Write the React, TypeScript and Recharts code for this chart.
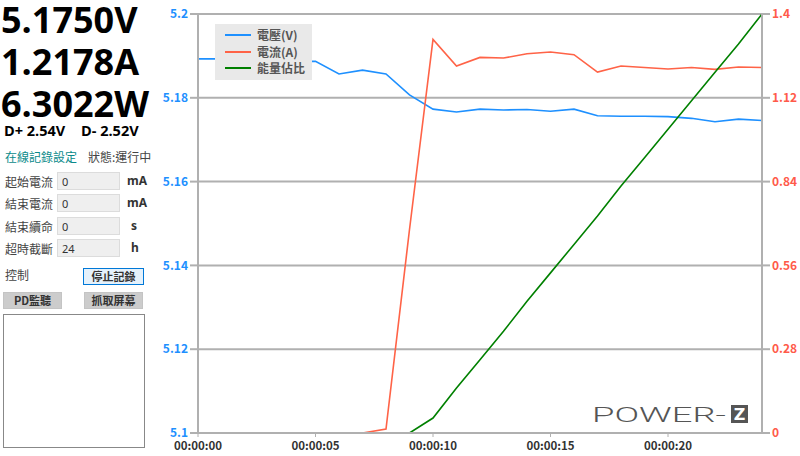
import React from 'react';
import { LineChart, Line, XAxis, YAxis, CartesianGrid, Legend } from 'recharts';

const seconds = [0, 1, 2, 3, 4, 5, 6, 7, 8, 9, 10, 11, 12, 13, 14, 15, 16, 17, 18, 19, 20, 21, 22, 23, 24];
const voltage = [5.1893, 5.1893, 5.1894, 5.1895, 5.1887, 5.1887, 5.1857, 5.1866, 5.1857, 5.1807, 5.1773, 5.1766, 5.1773, 5.1771, 5.1772, 5.1768, 5.1773, 5.1757, 5.1756, 5.1756, 5.1755, 5.1751, 5.1743, 5.1749, 5.1746];
const current: (number | null)[] = [null, null, null, null, null, null, null, 0, 0.013, 0.68, 1.315, 1.226, 1.255, 1.253, 1.267, 1.273, 1.264, 1.206, 1.226, 1.221, 1.216, 1.221, 1.215, 1.223, 1.221];
const energy: (number | null)[] = [null, null, null, null, null, null, null, null, null, 0, 0.05, 0.15, 0.245, 0.34, 0.44, 0.535, 0.63, 0.725, 0.825, 0.92, 1.015, 1.11, 1.205, 1.3, 1.4];

const xTicks = [0, 5, 10, 15, 20];
const leftTicks = [5.1, 5.12, 5.14, 5.16, 5.18, 5.2];
const rightTicks = [0, 0.28, 0.56, 0.84, 1.12, 1.4];
const seriesNames = ['電壓(V)', '電流(A)', '能量佔比'];
const seriesColors = ['#1e90ff', '#ff6347', '#008000'];

const data = seconds.map((s, i) => ({ t: s, v: voltage[i], a: current[i], e: energy[i] }));

const fmtTime = (s: number) => `00:00:${String(s).padStart(2, '0')}`;

const FONT = "'Noto Sans CJK TC', 'Noto Sans', sans-serif";
const BIG = "'Open Sans', sans-serif";
const GRID = '#b0b0b0';

const LegendBox = () => (
  <div style={{ background: '#e9e9e9', width: 97, height: 56, paddingTop: 3, boxSizing: 'border-box' }}>
    {seriesNames.map((n, i) => (
      <div key={n} style={{ display: 'flex', alignItems: 'center', height: 16.5 }}>
        <div style={{ marginLeft: 10, width: 26, height: 2, background: seriesColors[i] }} />
        <span style={{ marginLeft: 6, fontSize: 12, fontWeight: 700, color: '#555', fontFamily: FONT, lineHeight: '16px' }}>{n}</span>
      </div>
    ))}
  </div>
);

const Row = ({ label, value, unit, top }: { label: string; value: string; unit: string; top: number }) => (
  <div style={{ position: 'absolute', left: 0, top, width: 150, height: 19 }}>
    <span style={{ position: 'absolute', left: 5, top: 1, fontSize: 12, color: '#444' }}>{label}</span>
    <div style={{ position: 'absolute', left: 57, top: 0, width: 63, height: 18, background: '#efefef', border: '1px solid #dcdcdc', boxSizing: 'border-box' }}>
      <span style={{ position: 'absolute', left: 4, top: 1, fontSize: 11, color: '#333', fontFamily: "'Noto Sans', sans-serif" }}>{value}</span>
    </div>
    <span style={{ position: 'absolute', left: unit === 'mA' ? 127 : 131, top: 0, fontSize: 12, fontWeight: 700, color: '#333', fontFamily: "'Noto Sans', sans-serif" }}>{unit}</span>
  </div>
);

const Btn = ({ text, left, top, active }: { text: string; left: number; top: number; active?: boolean }) => (
  <div style={{ position: 'absolute', left, top, width: active ? 61 : 59, height: 17, background: active ? '#e5f1fb' : '#cccccc', border: active ? '1px solid #0078d7' : '1px solid #c4c4c4', boxSizing: 'border-box', fontSize: 11, fontWeight: 700, color: '#333', textAlign: 'center', lineHeight: '15px' }}>{text}</div>
);

const bigStyle = (top: number): React.CSSProperties => ({
  position: 'absolute', left: 1, top, fontSize: 36, fontWeight: 700, fontFamily: BIG, color: '#000', lineHeight: '40px', whiteSpace: 'nowrap',
});

export default function App() {
  return (
    <div style={{ position: 'absolute', left: 0, top: 0, width: 800, height: 456, background: '#fff', fontFamily: FONT, overflow: 'hidden' }}>
      {/* left panel */}
      <div style={{ position: 'absolute', left: 0, top: 0, width: 160, height: 456 }}>
        <div style={bigStyle(0)}>5.1750V</div>
        <div style={bigStyle(42)}>1.2178A</div>
        <div style={bigStyle(84)}>6.3022W</div>
        <div style={{ position: 'absolute', left: 4, top: 121, fontSize: 14.5, fontWeight: 700, fontFamily: BIG, color: '#000', lineHeight: '20px', whiteSpace: 'nowrap' }}>D+ 2.54V</div>
        <div style={{ position: 'absolute', left: 81, top: 121, fontSize: 14.5, fontWeight: 700, fontFamily: BIG, color: '#000', lineHeight: '20px', whiteSpace: 'nowrap' }}>D- 2.52V</div>
        <div style={{ position: 'absolute', left: 5, top: 148, fontSize: 12, color: '#0a8a8a' }}>在線記錄設定</div>
        <div style={{ position: 'absolute', left: 88, top: 148, fontSize: 12, color: '#444' }}>狀態:運行中</div>
        <Row label="起始電流" value="0" unit="mA" top={172} />
        <Row label="結束電流" value="0" unit="mA" top={194} />
        <Row label="結束續命" value="0" unit="s" top={217} />
        <Row label="超時截斷" value="24" unit="h" top={239} />
        <div style={{ position: 'absolute', left: 5, top: 266, fontSize: 12, color: '#444' }}>控制</div>
        <Btn text="停止記錄" left={83} top={268} active />
        <Btn text="PD監聽" left={3} top={292} />
        <Btn text="抓取屏幕" left={84} top={292} />
        <div style={{ position: 'absolute', left: 3, top: 314, width: 142, height: 134, border: '1px solid #888', boxSizing: 'border-box', background: '#fff' }} />
      </div>

      {/* chart */}
      <div style={{ position: 'absolute', left: 150, top: 0 }}>
        <LineChart width={650} height={456} data={data} margin={{ top: 14, right: 0, left: 0, bottom: 0 }}>
          <CartesianGrid vertical={false} horizontal stroke={GRID} strokeWidth={2} yAxisId="left" />
          <XAxis
            dataKey="t"
            type="number"
            domain={[0, 24]}
            ticks={xTicks}
            tickFormatter={fmtTime}
            height={23}
            tickSize={4}
            tickMargin={5}
            axisLine={{ stroke: GRID, strokeWidth: 2 }}
            tickLine={{ stroke: GRID }}
            tick={{ fill: '#333', fontSize: 11.5, fontWeight: 700, fontFamily: FONT }}
          />
          <YAxis
            yAxisId="left"
            domain={[5.1, 5.2]}
            ticks={leftTicks}
            width={48}
            tickSize={8}
            tickMargin={2}
            axisLine={{ stroke: GRID, strokeWidth: 2 }}
            tickLine={{ stroke: GRID, strokeWidth: 2 }}
            tick={{ fill: '#1e90ff', fontSize: 12, fontWeight: 700, fontFamily: FONT }}
            allowDataOverflow
          />
          <YAxis
            yAxisId="right"
            orientation="right"
            domain={[0, 1.4]}
            ticks={rightTicks}
            width={38}
            tickSize={8}
            tickMargin={2}
            axisLine={{ stroke: GRID, strokeWidth: 2 }}
            tickLine={{ stroke: GRID, strokeWidth: 2 }}
            tick={{ fill: '#ff5a4a', fontSize: 12, fontWeight: 700, fontFamily: FONT, textAnchor: 'start' }}
            allowDataOverflow
          />
          <Legend
            layout="vertical"
            verticalAlign="middle"
            align="center"
            content={() => <LegendBox />}
            wrapperStyle={{ position: 'absolute', left: 65, top: 24, width: 97, height: 56 }}
          />
          <Line yAxisId="left" type="linear" dataKey="v" name={seriesNames[0]} stroke={seriesColors[0]} strokeWidth={1.6} dot={false} isAnimationActive={false} />
          <Line yAxisId="right" type="linear" dataKey="a" name={seriesNames[1]} stroke={seriesColors[1]} strokeWidth={1.6} dot={false} isAnimationActive={false} />
          <Line yAxisId="right" type="linear" dataKey="e" name={seriesNames[2]} stroke={seriesColors[2]} strokeWidth={1.6} dot={false} isAnimationActive={false} />
        </LineChart>
      </div>

      {/* logo */}
      <svg style={{ position: 'absolute', left: 590, top: 402 }} width={162} height={24}>
        <text x={2} y={20} fontSize={21} fontWeight={300} fontFamily="Roboto, 'DejaVu Sans', sans-serif" fill="#555" textLength={134} lengthAdjust="spacingAndGlyphs">POWER-</text>
        <rect x={141} y={3} width={17} height={18} fill="#555" />
        <text x={149.5} y={18} fontSize={16} fontWeight={700} fontFamily="'DejaVu Sans', sans-serif" fill="#fff" textAnchor="middle">Z</text>
      </svg>
    </div>
  );
}
